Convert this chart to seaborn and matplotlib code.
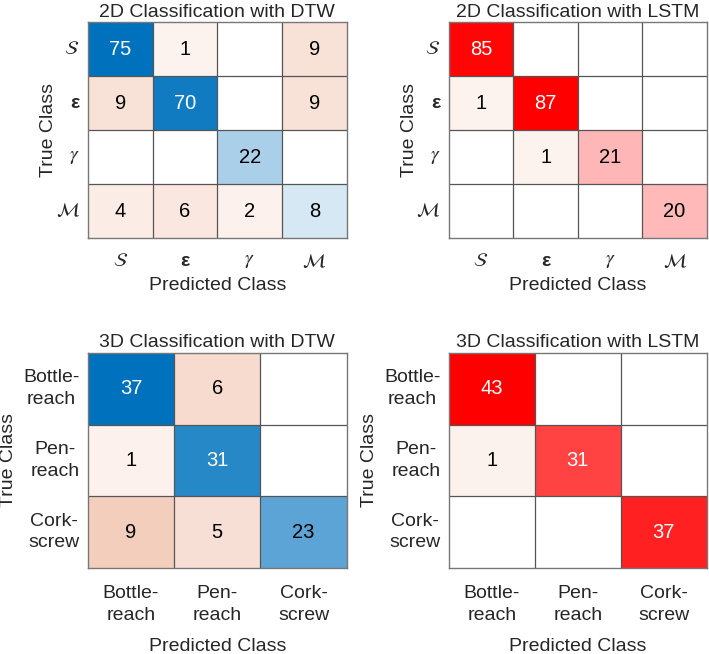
import numpy as np
import matplotlib
matplotlib.use("Agg")
import matplotlib.pyplot as plt
import seaborn as sns
from matplotlib.colors import LinearSegmentedColormap

sns.set_style("white")
plt.rcParams['font.family'] = ['Liberation Sans', 'DejaVu Sans']
plt.rcParams['mathtext.fontset'] = 'stix'

# confusion matrices (rows = true class, cols = predicted class)
dtw_2d = [[75, 1, 0, 9],
          [9, 70, 0, 9],
          [0, 0, 22, 0],
          [4, 6, 2, 8]]
lstm_2d = [[85, 0, 0, 0],
           [1, 87, 0, 0],
           [0, 1, 21, 0],
           [0, 0, 0, 20]]
dtw_3d = [[37, 6, 0],
          [1, 31, 0],
          [9, 5, 23]]
lstm_3d = [[43, 0, 0],
           [1, 31, 0],
           [0, 0, 37]]

labels_2d = [r'$\mathcal{S}$', 'ε', r'$\gamma$', r'$\mathcal{M}$']
labels_3d = ['Bottle-\nreach', 'Pen-\nreach', 'Cork-\nscrew']

titles = ['2D Classification with DTW', '2D Classification with LSTM',
          '3D Classification with DTW', '3D Classification with LSTM']

blue = '#0072BD'
orange = '#D95319'
red = '#FF0000'


def conf_plot(ax, mat, labels, diag_col, title):
    m = np.array(mat)
    n = m.shape[0]
    vmax = m.max()
    vmin = -vmax * 0.064  # lightest shade for non-zero cells
    eye = np.eye(n, dtype=bool)
    txt = m.astype(str)
    for cells, col in [(eye, diag_col), (~eye, orange)]:
        cmap = LinearSegmentedColormap.from_list('c', ['white', col])
        sns.heatmap(m, mask=~cells | (m == 0), cmap=cmap, vmin=vmin, vmax=vmax,
                    annot=txt, fmt='', cbar=False, ax=ax, square=False,
                    annot_kws={'fontsize': 14.5})
    for t in ax.texts:
        v = int(t.get_text())
        t.set_color('white' if v / vmax > 0.7 else 'black')
    for k in range(1, n):
        ax.axhline(k, color='#555555', lw=0.9)
        ax.axvline(k, color='#555555', lw=0.9)
    for s in ax.spines.values():
        s.set_visible(True)
        s.set_color('#777777')
        s.set_linewidth(1.0)
    ax.set_title(title, fontsize=14, pad=4)
    ax.set_xticklabels(labels, rotation=0, fontsize=14, linespacing=1.4)
    ax.set_yticklabels(labels, rotation=0, fontsize=14, ha='right',
                       multialignment='center', linespacing=1.35)
    ax.tick_params(length=0)
    ax.set_xlabel('Predicted Class', fontsize=14)
    ax.set_ylabel('True Class', fontsize=14)


fig = plt.figure(figsize=(7.09, 6.54), dpi=100)
ax1 = fig.add_axes([0.124, 0.636, 0.365, 0.330])
ax2 = fig.add_axes([0.633, 0.636, 0.364, 0.330])
ax3 = fig.add_axes([0.124, 0.1315, 0.365, 0.329])
ax4 = fig.add_axes([0.633, 0.1315, 0.364, 0.329])

conf_plot(ax1, dtw_2d, labels_2d, blue, titles[0])
conf_plot(ax2, lstm_2d, labels_2d, red, titles[1])
conf_plot(ax3, dtw_3d, labels_3d, blue, titles[2])
conf_plot(ax4, lstm_3d, labels_3d, red, titles[3])

for ax in (ax1, ax2):
    ax.tick_params(axis='x', pad=11)
    ax.tick_params(axis='y', pad=6)
    for t in ax.get_xticklabels() + ax.get_yticklabels():
        if t.get_text() == 'ε':
            t.set_fontweight('bold')
    ax.xaxis.set_label_coords(0.5, -0.18)
    ax.yaxis.set_label_coords(-0.12, 0.5)

for ax in (ax3, ax4):
    ax.tick_params(axis='x', pad=12)
    ax.tick_params(axis='y', pad=6)
    ax.xaxis.set_label_coords(0.5, -0.325)
    ax.yaxis.set_label_coords(-0.275, 0.5)

fig.savefig('out.png', dpi=100)
